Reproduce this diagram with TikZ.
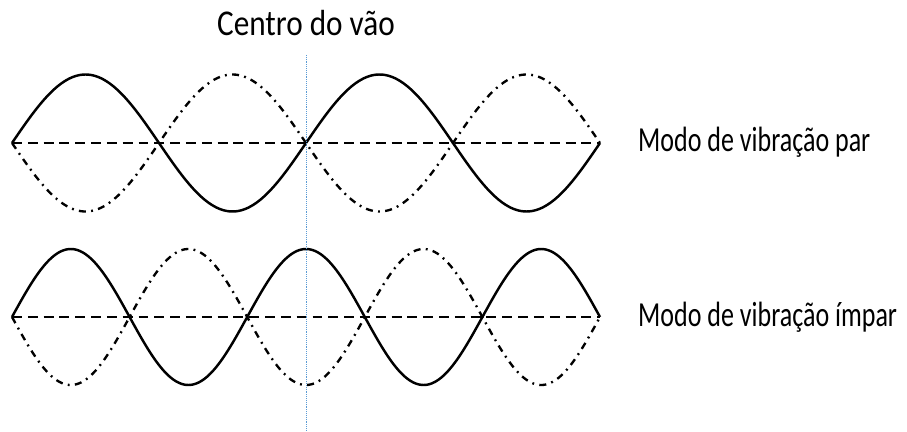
\documentclass[tikz,border=0pt]{standalone}
\usepackage{fontspec}
\setmainfont{Carlito}
\usepackage{graphicx}

\definecolor{centroblue}{RGB}{91,155,213}

\tikzset{
  modo/.style={line width=2.1pt, line join=round},
  refline/.style={line width=2.5pt, dash pattern=on 8.5pt off 5pt},
  espelho/.style={line width=2pt, dash pattern=on 6pt off 4.5pt on 1.6pt off 4.5pt},
  rotulo/.style={inner sep=0pt, font=\fontsize{30}{36}\selectfont}
}

\begin{document}
\begin{tikzpicture}[x=0.03cm, y=-0.03cm]
  \useasboundingbox (0,0) rectangle (907,432);

  % modo par (4 meias ondas)
  \coordinate (Pa) at (12,143);
  \coordinate (Pb) at (600,143);
  \draw[refline] (Pa) -- (Pb);
  \draw[modo] plot[domain=12:600, samples=240] (\x, {143 - 68.5*sin((\x-12)/147*180)});
  \draw[espelho] plot[domain=12:600, samples=240] (\x, {143 + 68.5*sin((\x-12)/147*180)});

  % modo impar (5 meias ondas)
  \coordinate (Ia) at (12,317);
  \coordinate (Ib) at (600,317);
  \draw[refline] (Ia) -- (Ib);
  \draw[modo] plot[domain=12:600, samples=300] (\x, {317 - 68*sin((\x-12)/117.6*180)});
  \draw[espelho] plot[domain=12:600, samples=300] (\x, {317 + 68*sin((\x-12)/117.6*180)});

  % centro do vao
  \coordinate (Ct) at (306,55);
  \coordinate (Cb) at (306,430);
  \draw[centroblue, line width=0.6pt, dash pattern=on 0.8pt off 0.8pt] (Ct) -- (Cb);

  \node[rotulo, font=\fontsize{31}{36}\selectfont, anchor=base] (titulo) at (306,36) {\scalebox{0.86}[1]{Centro do vão}};
  \node[rotulo, anchor=base west] (par) at (638,152) {\scalebox{0.74}[1]{Modo de vibração par}};
  \node[rotulo, anchor=base west] (impar) at (638,326) {\scalebox{0.74}[1]{Modo de vibração ímpar}};
\end{tikzpicture}
\end{document}
